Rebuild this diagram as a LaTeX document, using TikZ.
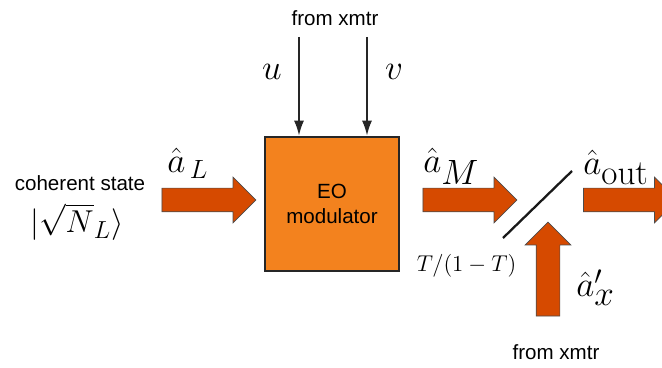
\RequirePackage{fix-cm}
\documentclass[tikz,border=0pt]{standalone}
\usepackage{amsmath}
\usepackage[no-math]{fontspec}
\setmainfont{Liberation Sans}
\DeclareMathSizes{20}{20}{15}{12}
\DeclareMathSizes{18}{18}{14}{11}
\usepackage{xcolor}
\usetikzlibrary{arrows.meta, shapes.arrows}

\definecolor{eoorange}{RGB}{243,130,30}
\definecolor{beamred}{RGB}{214,74,0}

\begin{document}
\begin{tikzpicture}[
  modbox/.style={draw=black!85, line width=1.5pt, fill=eoorange, minimum size=2.68cm, align=center, font=\fontsize{11.7}{14}\selectfont},
  beam/.style={single arrow, draw=black!70, fill=beamred, line width=0.4pt, inner xsep=0pt, inner ysep=0.23cm, minimum height=1.88cm, minimum width=0.9cm, single arrow head extend=0.22cm, single arrow tip angle=90},
  sig/.style={-{Latex[length=3mm, width=2mm]}, line width=1pt, black!85},
  txt/.style={font=\fontsize{11.7}{14}\selectfont, inner sep=0pt},
  mlbl/.style={font=\fontsize{20}{22}\selectfont, inner sep=0pt},
]
  \clip (0, 0) rectangle (13.24, 7.36);

  % EO modulator
  \node[modbox] (eom) at (6.64, 3.28) {EO\\modulator};

  % Control inputs
  \node[txt] (ctrl) at (6.70, 7.0) {from xmtr};
  \coordinate (utop) at (5.98, 6.62);
  \coordinate (vtop) at (7.34, 6.62);
  \draw[sig] (utop) -- (utop |- eom.north);
  \draw[sig] (vtop) -- (vtop |- eom.north);
  \node[mlbl] (u) at (5.44, 5.92) {$u$};
  \node[mlbl] (v) at (7.88, 5.92) {$v$};

  % Input beam
  \node[txt, anchor=base] (coh) at (1.60, 3.54) {coherent state};
  \node[font=\fontsize{18}{20}\selectfont, inner sep=0pt, anchor=north] (ket) at (1.54, 3.30) {$|\sqrt{N}_L\rangle$};
  \node[beam] (inL) at (4.06, 3.36) {};
  \node[mlbl, anchor=base west] (aL) at (3.34, 3.9) {$\hat{a}_{\,L}$};

  % Modulated beam
  \node[beam] (modM) at (9.28, 3.36) {};
  \node[mlbl, anchor=base west] (aM) at (8.46, 3.9) {$\hat{a}_{\textstyle M}$};

  % Beam splitter
  \coordinate (bsA) at (10.06, 2.60);
  \coordinate (bsB) at (11.44, 3.94);
  \draw[line width=1.3pt, black!90] (bsA) -- (bsB);
  \node[font=\fontsize{13}{15}\selectfont, inner sep=0pt, anchor=base] (tr) at (9.33, 1.92) {$T/(1-T)$};

  % Output beam
  \node[beam] (outB) at (12.49, 3.36) {};
  \node[mlbl, anchor=base west] (aout) at (11.66, 3.86) {$\hat{a}_{\textstyle\mathrm{out}}$};

  % Auxiliary input
  \node[beam, rotate=90] (aux) at (10.96, 1.86) {};
  \node[mlbl, anchor=base west] (ax) at (11.52, 1.42) {$\hat{a}'_{\textstyle x}$};
  \node[txt] (ctrl2) at (11.12, 0.32) {from xmtr};
\end{tikzpicture}
\end{document}
